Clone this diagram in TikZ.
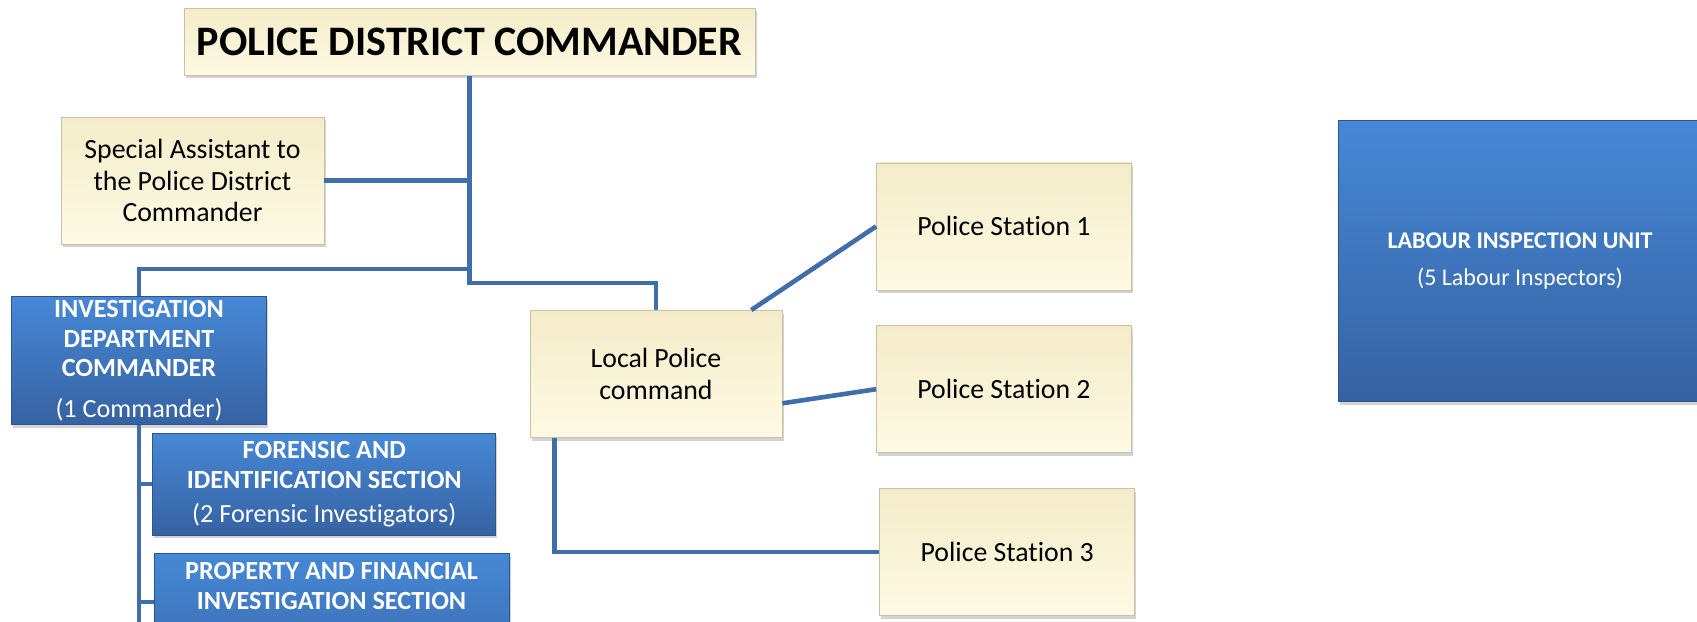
\documentclass[tikz,border=0pt]{standalone}
\usepackage{fontspec}
\setmainfont{Carlito}[Ligatures=NoCommon]
\usetikzlibrary{shadows}

\definecolor{linkblue}{RGB}{64,110,170}
\definecolor{creamtop}{RGB}{244,236,201}
\definecolor{creambot}{RGB}{254,250,228}
\definecolor{creamedge}{RGB}{200,193,168}
\definecolor{bluetop}{RGB}{70,136,214}
\definecolor{bluebot}{RGB}{54,98,162}
\definecolor{blueedge}{RGB}{46,84,140}

\begin{document}
\begin{tikzpicture}[x=0.5pt,y=-0.5pt,node distance=81.4pt,
    box/.style={rectangle,align=center,inner sep=2pt,
      drop shadow={shadow xshift=0.8pt,shadow yshift=-1.6pt,opacity=0.35}},
    cream/.style={box,draw=creamedge,top color=creamtop,bottom color=creambot,
      font=\fontsize{13.9}{15.75}\selectfont,minimum width=127.5pt,minimum height=63.5pt},
    bluebox/.style={box,draw=blueedge,top color=bluetop,bottom color=bluebot,text=white,
      font=\fontsize{13.1}{14.85}\selectfont\bfseries},
    link/.style={draw=linkblue,line width=2.3pt}]
    \useasboundingbox (0,0) rectangle (1697,621);

    \node[cream,font=\fontsize{21}{24}\selectfont\bfseries,minimum width=285.5pt,minimum height=33.5pt]
                       (pdc)  at (469.4,41.7)  {POLICE DISTRICT COMMANDER};
    \node[cream,minimum width=131.5pt]
                       (asst) at (192.5,180.5) {Special Assistant to\\the Police District\\Commander};
    \node[bluebox,minimum width=127.5pt,minimum height=64pt]
                       (inv)  at (139,360.5)   {INVESTIGATION\\DEPARTMENT\\COMMANDER\\[5.2pt]\mdseries(1 Commander)};
    \node[bluebox,minimum width=171.5pt,minimum height=51pt]
                       (foren) at (324.3,484)  {FORENSIC AND\\IDENTIFICATION SECTION\\[2.3pt]\mdseries(2 Forensic Investigators)};
    \node[bluebox,anchor=north,minimum width=177.5pt,inner ysep=4.5pt,text depth=45pt]
                       (prop) at (331.5,553.3) {PROPERTY AND FINANCIAL\\INVESTIGATION SECTION};
    \node[cream,minimum width=126pt]
                       (lpc)  at (656,373.9)   {Local Police\\command};
    \node[cream]       (ps1)  at (1004,226.4)  {Police Station 1};
    \node[cream]       (ps2)  [below of=ps1]   {Police Station 2};
    \node[cream]       (ps3)  [below of=ps2,xshift=1.6pt] {Police Station 3};
    \node[bluebox,font=\fontsize{12}{18.3}\selectfont\bfseries,minimum width=182pt,minimum height=140.5pt]
                       (lab)  at (1520,261)    {LABOUR INSPECTION UNIT\\\mdseries(5 Labour Inspectors)};

    \coordinate (jinv)  at (469.4,269);
    \coordinate (jlpc)  at (469.4,283);
    \coordinate (spine) at (139,640);

    \draw[link] (pdc.south) -- (jlpc) -| (lpc.north);
    \draw[link] (asst.east) -- (asst.east -| pdc.south);
    \draw[link] (jinv) -| (inv.north);
    \draw[link] (inv.south) -- (spine);
    \draw[link] (foren.west) -- (foren.west -| spine);
    \draw[link] ([yshift=-24.4pt]prop.north west) -- ([yshift=-24.4pt]prop.north west -| spine);
    \path[link] (lpc) edge (ps1.west)
                ([yshift=-14.7pt]lpc.east) edge (ps2.west);
    \draw[link] ([xshift=12.5pt]lpc.south west) |- (ps3.west);
\end{tikzpicture}
\end{document}
